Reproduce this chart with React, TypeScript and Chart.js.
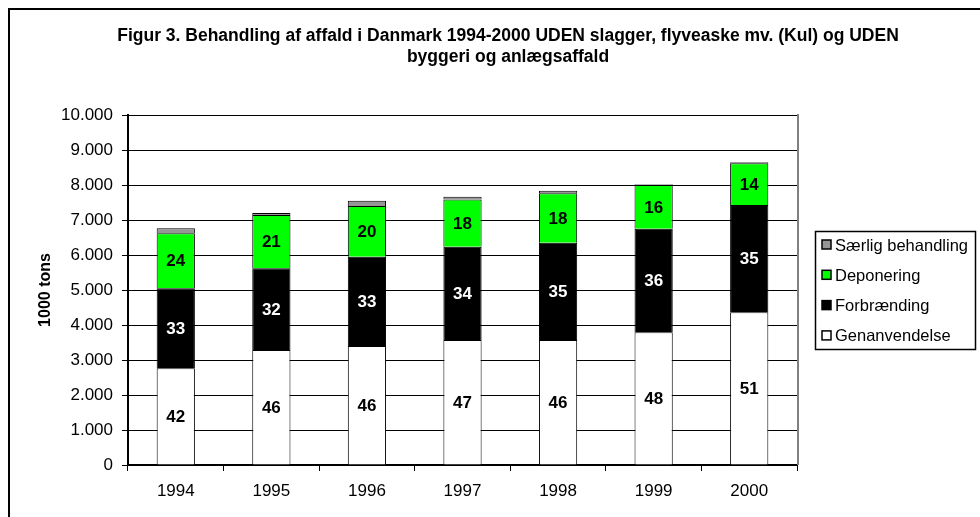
import React, { useEffect, useRef } from 'react';
import { Chart, registerables } from 'chart.js';

Chart.register(...registerables);

const years = ['1994', '1995', '1996', '1997', '1998', '1999', '2000'];
const genanvendelse = [2763, 3286, 3400, 3571, 3571, 3790, 4363];
const forbraending = [2286, 2334, 2551, 2666, 2781, 2962, 3066];
const deponering = [1571, 1520, 1449, 1349, 1415, 1248, 1190];
const saerlig = [143, 60, 151, 80, 70, 25, 30];

const genPct = [42, 46, 46, 47, 46, 48, 51];
const forPct = [33, 32, 33, 34, 35, 36, 35];
const depPct = [24, 21, 20, 18, 18, 16, 14];

const seriesNames = ['Genanvendelse', 'Forbrænding', 'Deponering', 'Særlig behandling'];
const titleLines = [
  'Figur 3. Behandling af affald i Danmark 1994-2000 UDEN slagger, flyveaske mv. (Kul) og UDEN',
  'byggeri og anlægsaffald',
];
const yTitle = '1000 tons';
const yMin = 0;
const yMax = 10000;
const yStep = 1000;

const FONT = 'Arial, "Liberation Sans", Helvetica, sans-serif';

const fmt = (v: number) => String(v).replace(/\B(?=(\d{3})+(?!\d))/g, '.');

const framePlugin = {
  id: 'framePlugin',
  beforeDraw(chart: any) {
    const ctx = chart.ctx;
    ctx.save();
    ctx.fillStyle = '#ffffff';
    ctx.fillRect(0, 0, chart.width, chart.height);
    ctx.strokeStyle = '#000';
    ctx.lineWidth = 2;
    ctx.beginPath();
    ctx.moveTo(1, chart.height);
    ctx.lineTo(1, 1);
    ctx.lineTo(chart.width, 1);
    ctx.stroke();
    ctx.fillStyle = '#000';
    ctx.font = `bold 17.5px ${FONT}`;
    ctx.textAlign = 'center';
    ctx.textBaseline = 'middle';
    titleLines.forEach((t, i) => ctx.fillText(t, chart.width / 2, 28 + i * 21));
    ctx.restore();
  },
  afterDatasetsDraw(chart: any) {
    const ctx = chart.ctx;
    ctx.save();
    ctx.font = `bold 17px ${FONT}`;
    ctx.textAlign = 'center';
    ctx.textBaseline = 'middle';
    chart.data.datasets.forEach((ds: any, i: number) => {
      if (!ds.pctLabels) return;
      const meta = chart.getDatasetMeta(i);
      ctx.fillStyle = ds.labelColor;
      meta.data.forEach((el: any, j: number) => {
        const p = el.getProps(['x', 'y', 'base'], true);
        ctx.fillText(String(ds.pctLabels[j]), p.x, (p.y + p.base) / 2 + 1);
      });
    });
    ctx.restore();
  },
  afterDraw(chart: any) {
    const ctx = chart.ctx;
    const { right, top, bottom } = chart.chartArea;
    ctx.save();
    ctx.strokeStyle = '#808080';
    ctx.lineWidth = 2;
    ctx.beginPath();
    ctx.moveTo(right + 1, top - 1);
    ctx.lineTo(right + 1, bottom);
    ctx.stroke();

    // legend
    const lx = 807, ly = 223, lw = 160, lh = 118;
    ctx.fillStyle = '#fff';
    ctx.fillRect(lx, ly, lw, lh);
    ctx.strokeStyle = '#000';
    ctx.lineWidth = 1.5;
    ctx.strokeRect(lx + 0.5, ly + 0.5, lw, lh);
    const items = chart.data.datasets.slice().reverse();
    ctx.font = `16.5px ${FONT}`;
    ctx.textAlign = 'left';
    ctx.textBaseline = 'middle';
    items.forEach((ds: any, k: number) => {
      const cy = ly + 14 + k * 30.3;
      ctx.fillStyle = ds.backgroundColor;
      ctx.fillRect(lx + 7, cy - 5, 9, 9);
      ctx.strokeStyle = '#000';
      ctx.lineWidth = 1.5;
      ctx.strokeRect(lx + 7, cy - 5, 9, 9);
      ctx.fillStyle = '#000';
      ctx.fillText(ds.label, lx + 20, cy + 1);
    });
    ctx.restore();
  },
};

export default function App() {
  const ref = useRef<HTMLCanvasElement | null>(null);

  useEffect(() => {
    if (!ref.current) return;
    const chart = new Chart(ref.current, {
      type: 'bar',
      data: {
        labels: years,
        datasets: [
          {
            label: seriesNames[0],
            data: genanvendelse,
            backgroundColor: '#ffffff',
            borderColor: '#000',
            borderWidth: 1,
            pctLabels: genPct,
            labelColor: '#000',
          } as any,
          {
            label: seriesNames[1],
            data: forbraending,
            backgroundColor: '#000000',
            borderColor: '#000',
            borderWidth: 1,
            pctLabels: forPct,
            labelColor: '#fff',
          } as any,
          {
            label: seriesNames[2],
            data: deponering,
            backgroundColor: '#00ff00',
            borderColor: '#000',
            borderWidth: 1,
            pctLabels: depPct,
            labelColor: '#000',
          } as any,
          {
            label: seriesNames[3],
            data: saerlig,
            backgroundColor: '#969696',
            borderColor: '#000',
            borderWidth: 1,
          } as any,
        ],
      },
      options: {
        responsive: false,
        maintainAspectRatio: false,
        animation: false,
        devicePixelRatio: 1,
        layout: { padding: { left: 0, top: 107, right: 211, bottom: 12 } },
        datasets: { bar: { categoryPercentage: 1, barPercentage: 0.4 } },
        plugins: {
          legend: { display: false },
          title: { display: false },
          tooltip: { enabled: false },
        },
        scales: {
          x: {
            stacked: true,
            offset: true,
            grid: {
              display: true,
              drawOnChartArea: false,
              drawTicks: true,
              tickLength: 6,
              color: '#000',
              lineWidth: 1,
              offset: true,
            },
            border: { color: '#000', width: 2 },
            ticks: { color: '#000', font: { size: 17, family: FONT }, padding: 10, maxRotation: 0 },
            afterFit: (s: any) => { s.height = 40; },
          },
          y: {
            stacked: true,
            min: yMin,
            max: yMax,
            grid: { color: '#000', lineWidth: 1, drawTicks: true, tickLength: 6 },
            border: { color: '#000', width: 2 },
            ticks: {
              stepSize: yStep,
              color: '#000',
              font: { size: 17, family: FONT },
              padding: 9,
              callback: (v: any) => fmt(Number(v)),
            },
            title: {
              display: true,
              text: yTitle,
              color: '#000',
              font: { size: 16, weight: 'bold', family: FONT },
              padding: { top: 28, bottom: 0 },
            },
            afterFit: (s: any) => { s.width = 120; },
          },
        },
      },
      plugins: [framePlugin],
    } as any);
    return () => chart.destroy();
  }, []);

  return (
    <div style={{ position: 'absolute', left: 8, top: 8, width: 972, height: 509, overflow: 'hidden' }}>
      <canvas ref={ref} width={1000} height={509} style={{ display: 'block' }} />
    </div>
  );
}
